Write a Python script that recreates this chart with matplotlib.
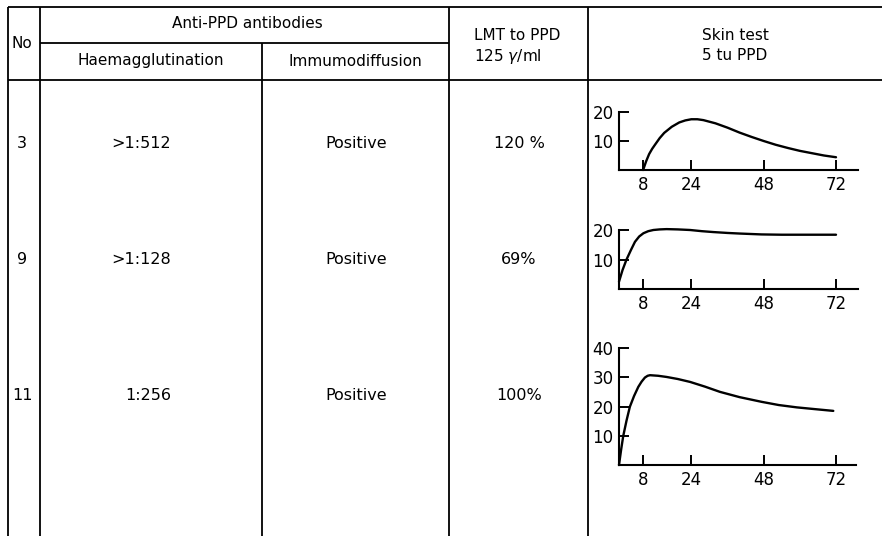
"""Anti-PPD antibody table with skin test time courses"""

import matplotlib
matplotlib.use("Agg")
import matplotlib.pyplot as plt

# table contents
patients = ["3", "9", "11"]
haemagglutination = [">1:512", ">1:128", "1:256"]
immunodiffusion = ["Positive", "Positive", "Positive"]
lmt = ["120 %", "69%", "100%"]

# skin test curves (hours, response)
hours_3 = [8, 9, 10, 11, 12, 13.5, 15, 17.5, 20, 22, 24, 26, 28, 32, 36, 40, 44, 48, 52, 56, 60, 64, 68, 72]
resp_3 = [0, 3, 5.5, 7.3, 8.8, 11, 12.8, 14.9, 16.4, 17.1, 17.5, 17.5, 17.2, 16.1, 14.6, 12.9, 11.4, 10, 8.7, 7.6, 6.6, 5.8, 5, 4.4]
hours_9 = [0, 1.2, 2.5, 4, 5.3, 6.7, 8.1, 9.7, 11.4, 13.5, 15.8, 19.5, 23.6, 27.5, 31.3, 36, 40, 47.3, 54, 60, 66, 72]
resp_9 = [2.5, 6.5, 10, 13.3, 16, 17.8, 18.9, 19.6, 20, 20.2, 20.3, 20.2, 20, 19.6, 19.3, 19, 18.8, 18.5, 18.4, 18.4, 18.4, 18.4]
hours_11 = [0, 0.7, 1.4, 2.5, 3.6, 5, 6.4, 7.5, 8.6, 9.5, 10.3, 13, 15.8, 19.5, 23.6, 28.5, 33.5, 40, 47.3, 53, 59, 65, 71.1]
resp_11 = [0, 5.2, 9.9, 15.2, 19.9, 23.6, 26.7, 28.5, 29.9, 30.5, 30.7, 30.5, 30.1, 29.4, 28.4, 26.8, 25, 23.2, 21.6, 20.5, 19.7, 19.1, 18.5]
x_ticks = [8, 24, 48, 72]

W, H = 882, 536
plt.rcParams.update({"font.family": "DejaVu Sans"})
fig = plt.figure(figsize=(W / 100, H / 100), dpi=100)

# background axes in pixel coords for the table grid
bg = fig.add_axes([0, 0, 1, 1])
bg.set_xlim(0, W)
bg.set_ylim(H, 0)
bg.axis("off")

lw = 1.3
bg.hlines([7, 80], 8, W, color="black", lw=lw)
bg.hlines(43, 40, 449, color="black", lw=lw)
bg.vlines([8, 40, 449, 588], 7, H, color="black", lw=lw)
bg.vlines(262, 43, H, color="black", lw=lw)

hfs = 11
bg.text(22, 43, "No", ha="center", va="center", fontsize=hfs)
bg.text(247, 24, "Anti-PPD antibodies", ha="center", va="center", fontsize=hfs)
bg.text(151, 61, "Haemagglutination", ha="center", va="center", fontsize=hfs)
bg.text(355, 61, "Immumodiffusion", ha="center", va="center", fontsize=hfs)
bg.text(474, 36, "LMT to PPD", ha="left", va="center", fontsize=hfs)
bg.text(474, 56, "125 $\\gamma$/ml", ha="left", va="center", fontsize=hfs)
bg.text(735, 36, "Skin test", ha="center", va="center", fontsize=hfs)
bg.text(735, 56, "5 tu PPD", ha="center", va="center", fontsize=hfs)

row_y = [143, 260, 396]
bfs = 11.5
for i, y in enumerate(row_y):
    bg.text(22, y, patients[i], ha="center", va="center", fontsize=bfs)
    bg.text(171, y, haemagglutination[i], ha="right", va="center", fontsize=bfs)
    bg.text(356, y, immunodiffusion[i], ha="center", va="center", fontsize=bfs)
    bg.text(519, y, lmt[i], ha="center", va="center", fontsize=bfs)


def mini(left, right, bottom, top, hours, resp, ymax, yticks):
    ax = fig.add_axes([left / W, 1 - bottom / H, (right - left) / W, (bottom - top) / H])
    ax.patch.set_alpha(0)
    xmax = (right - left) / 3.014
    ax.set_xlim(0, xmax)
    ax.set_ylim(0, ymax)
    ax.plot(hours, resp, color="black", lw=1.7, clip_on=False,
            solid_joinstyle="round", solid_capstyle="round")
    for s in ["top", "right"]:
        ax.spines[s].set_visible(False)
    for s in ["left", "bottom"]:
        ax.spines[s].set_linewidth(1.5)
    ax.set_xticks(x_ticks)
    ax.set_yticks(yticks)
    ax.tick_params(direction="in", length=7, width=1.4, labelsize=12, pad=4)
    return ax


mini(619, 858, 170, 112, hours_3, resp_3, 20, [10, 20])
mini(619, 858, 289, 230, hours_9, resp_9, 20, [10, 20])
mini(619, 856, 465, 348, hours_11, resp_11, 40, [10, 20, 30, 40])

fig.savefig("out.png", dpi=100)
